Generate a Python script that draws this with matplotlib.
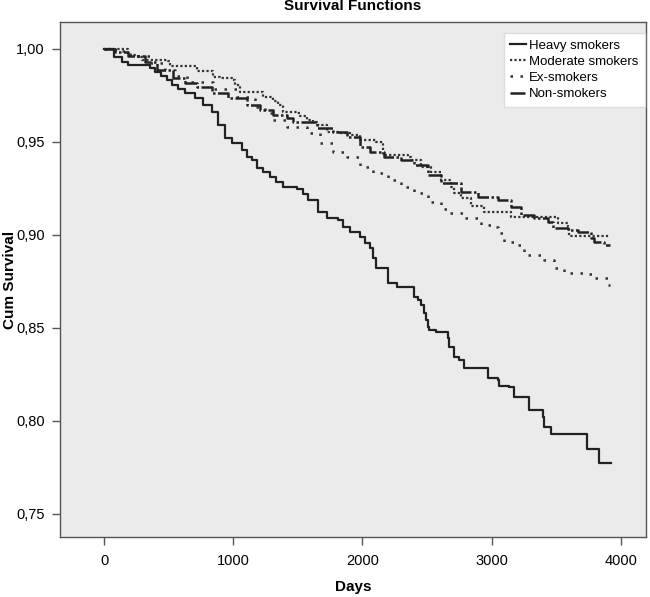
import numpy as np
import matplotlib
matplotlib.use("Agg")
import matplotlib.pyplot as plt
from matplotlib.ticker import FuncFormatter

plt.rcParams['font.family'] = ['Liberation Sans', 'DejaVu Sans']

# ---------------- Kaplan-Meier step data ----------------
heavy_days = [0, 78, 140, 186, 357, 395, 442, 488, 527, 574, 628, 705, 767, 837, 884,
              938, 992, 1070, 1109, 1147, 1186, 1233, 1287, 1333, 1388, 1496, 1543, 1581,
              1659, 1729, 1814, 1853, 1907, 1984, 2023, 2062, 2085, 2101, 2194, 2271,
              2395, 2426, 2450, 2473, 2488, 2504, 2512, 2566, 2659, 2667, 2705, 2744,
              2783, 2969, 3047, 3054, 3132, 3171, 3287, 3395, 3403, 3457, 3736, 3829, 3922]
heavy_surv = [1.0, .9957, .9930, .9914, .9898, .9876, .9855, .9833, .9806, .9785, .9763,
              .9737, .9699, .9661, .9591, .9522, .9495, .9457, .9419, .9403, .9360, .9339,
              .9312, .9285, .9258, .9245, .9220, .9188, .9124, .9091, .9081, .9043, .9016,
              .8989, .8957, .8930, .8876, .8823, .8742, .8720, .8667, .8651, .8624, .8581,
              .8543, .8505, .8489, .8479, .8446, .8398, .8344, .8328, .8285, .8231, .8221,
              .8188, .8183, .8129, .8059, .8022, .7968, .7930, .7850, .7774, .7774]

moderate_days = [0, 186, 202, 264, 295, 496, 512, 721, 845, 899, 992, 1016, 1054, 1233,
                 1310, 1349, 1388, 1496, 1519, 1574, 1620, 1659, 1729, 1829, 1907, 1984,
                 2101, 2155, 2349, 2372, 2450, 2527, 2605, 2682, 2705, 2760, 2837, 2938,
                 3147, 3512, 3589, 3597, 3907]
moderate_surv = [1.0, .9978, .9968, .9957, .9941, .9935, .9909, .9882, .9849, .9844, .9833,
                 .9806, .9769, .9742, .9720, .9699, .9661, .9656, .9640, .9618, .9608, .9591,
                 .9554, .9548, .9538, .9511, .9500, .9430, .9419, .9403, .9366, .9339, .9296,
                 .9258, .9226, .9199, .9156, .9124, .9097, .9065, .9043, .8995, .8995]

ex_days = [0, 85, 202, 357, 473, 550, 643, 845, 1031, 1171, 1248, 1310, 1419, 1574, 1674,
           1775, 1884, 1984, 2085, 2194, 2295, 2395, 2504, 2605, 2659, 2783, 2915, 3008,
           3047, 3093, 3202, 3248, 3403, 3481, 3558, 3744, 3783, 3899, 3915]
ex_surv = [1.0, .9989, .9962, .9925, .9887, .9855, .9823, .9785, .9742, .9688, .9656, .9618,
           .9581, .9548, .9495, .9446, .9419, .9366, .9333, .9296, .9258, .9226, .9177,
           .9140, .9118, .9091, .9054, .9043, .9011, .8962, .8946, .8893, .8866, .8823,
           .8796, .8790, .8769, .8731, .8731]

non_days = [0, 85, 186, 318, 411, 535, 628, 721, 837, 961, 1109, 1209, 1310, 1419, 1465,
            1651, 1775, 1884, 1984, 2062, 2163, 2295, 2395, 2504, 2605, 2760, 2891, 3047,
            3147, 3225, 3326, 3434, 3473, 3589, 3667, 3767, 3791, 3868, 3915]
non_surv = [1.0, .9984, .9962, .9930, .9887, .9844, .9817, .9796, .9763, .9737, .9699,
            .9672, .9645, .9629, .9608, .9575, .9554, .9527, .9473, .9446, .9419, .9403,
            .9376, .9323, .9280, .9231, .9204, .9188, .9151, .9108, .9091, .9070, .9038,
            .9027, .9016, .8984, .8962, .8946, .8946]

labels = ["Heavy smokers", "Moderate smokers", "Ex-smokers", "Non-smokers"]
x_ticks = [0, 1000, 2000, 3000, 4000]
y_ticks = [0.75, 0.80, 0.85, 0.90, 0.95, 1.00]

# ---------------- Plot ----------------
fig = plt.figure(figsize=(6.5, 5.97), dpi=100)
ax = fig.add_axes([0.0923, 0.1005, 0.9015, 0.8626])
ax.set_facecolor('#ebebeb')

ax.step(heavy_days, heavy_surv, where='post', color='#222222', lw=1.6,
        label=labels[0])
ax.step(moderate_days, moderate_surv, where='post', color='#333333', lw=1.6,
        linestyle=(0, (1, 1)), label=labels[1])
ax.step(ex_days, ex_surv, where='post', color='#333333', lw=1.8,
        linestyle=(0, (1, 3)), label=labels[2])
ax.step(non_days, non_surv, where='post', color='#222222', lw=1.8,
        linestyle=(0, (6, 1, 1, 1)), label=labels[3])

ax.set_xlim(-341, 4194)
ax.set_ylim(0.7376, 1.0145)
ax.set_xticks(x_ticks)
ax.set_yticks(y_ticks)
ax.yaxis.set_major_formatter(FuncFormatter(lambda v, p: f"{v:.2f}".replace('.', ',')))
ax.tick_params(axis='both', direction='out', length=6, width=1, color='#555555',
               labelsize=10.5, pad=5)
ax.tick_params(axis='x', pad=6)
for s in ax.spines.values():
    s.set_color('#555555')
    s.set_linewidth(1)

ax.set_xlabel("Days", fontsize=11, fontweight='bold')
ax.set_ylabel("Cum Survival", fontsize=11, fontweight='bold')
ax.xaxis.set_label_coords(0.5, -0.083)
ax.yaxis.set_label_coords(-0.074, 0.5)
fig.text(0.543, 0.99, "Survival Functions", ha='center', va='center',
         fontsize=11, fontweight='bold')

leg = ax.legend(loc='upper right', bbox_to_anchor=(0.998, 0.979), borderaxespad=0,
                fontsize=9.5, handlelength=1.2, handletextpad=0.2, labelspacing=0.3,
                frameon=True, fancybox=False, borderpad=0.5)
leg.get_frame().set_edgecolor('#dddddd')
leg.get_frame().set_facecolor('white')
leg.get_frame().set_alpha(1)

fig.savefig("out.png", dpi=100)
